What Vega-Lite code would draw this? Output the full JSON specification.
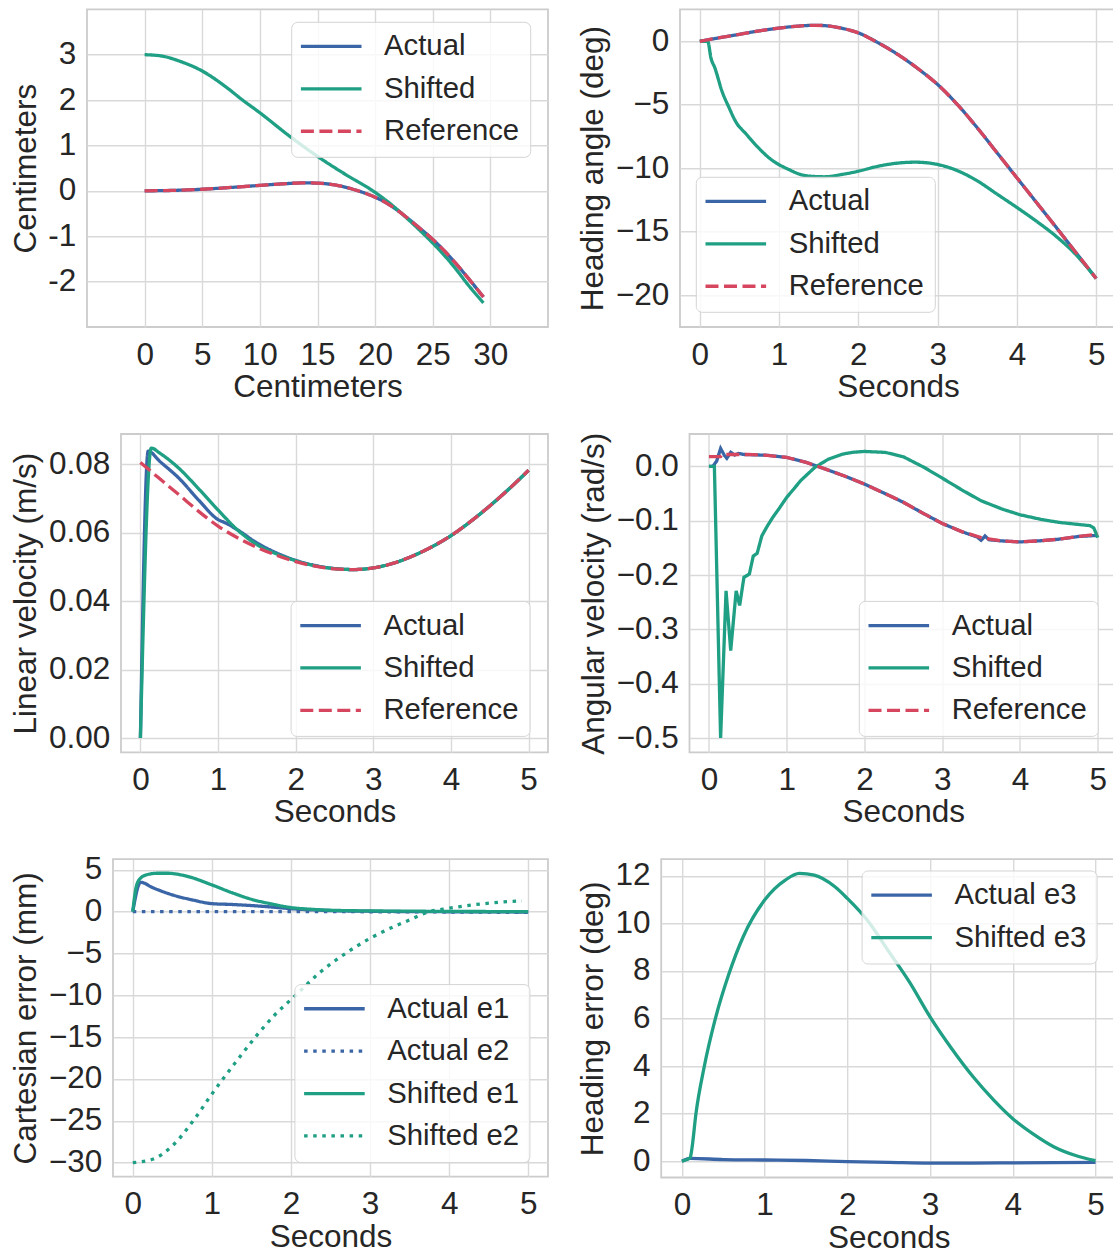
{
  "$schema": "https://vega.github.io/schema/vega-lite/v6.json",
  "padding": {"left": 0, "top": 8.3, "right": 0, "bottom": 0},
  "datasets": {
    "p1": [
      {"s":"Actual","x":0,"y":0},{"s":"Actual","x":2.5,"y":0.01},{"s":"Actual","x":5,"y":0.035},{"s":"Actual","x":7.5,"y":0.075},{"s":"Actual","x":10,"y":0.12},{"s":"Actual","x":12,"y":0.155},{"s":"Actual","x":13.8,"y":0.175},{"s":"Actual","x":15,"y":0.17},{"s":"Actual","x":16.5,"y":0.13},{"s":"Actual","x":18,"y":0.04},{"s":"Actual","x":19,"y":-0.04},{"s":"Actual","x":20,"y":-0.14},{"s":"Actual","x":21,"y":-0.27},{"s":"Actual","x":22,"y":-0.44},{"s":"Actual","x":23,"y":-0.64},{"s":"Actual","x":24,"y":-0.85},{"s":"Actual","x":25,"y":-1.07},{"s":"Actual","x":26,"y":-1.32},{"s":"Actual","x":27,"y":-1.6},{"s":"Actual","x":28,"y":-1.9},{"s":"Actual","x":29.4,"y":-2.34},
      {"s":"Shifted","x":0,"y":3},{"s":"Shifted","x":1.5,"y":2.97},{"s":"Shifted","x":3,"y":2.86},{"s":"Shifted","x":5,"y":2.64},{"s":"Shifted","x":7,"y":2.3},{"s":"Shifted","x":8.5,"y":2.0},{"s":"Shifted","x":10,"y":1.72},{"s":"Shifted","x":12.5,"y":1.22},{"s":"Shifted","x":15,"y":0.76},{"s":"Shifted","x":17.5,"y":0.35},{"s":"Shifted","x":19.8,"y":0},{"s":"Shifted","x":21,"y":-0.22},{"s":"Shifted","x":22,"y":-0.43},{"s":"Shifted","x":23,"y":-0.66},{"s":"Shifted","x":24,"y":-0.9},{"s":"Shifted","x":25,"y":-1.15},{"s":"Shifted","x":26,"y":-1.42},{"s":"Shifted","x":27,"y":-1.72},{"s":"Shifted","x":28,"y":-2.05},{"s":"Shifted","x":29.4,"y":-2.47},
      {"s":"Reference","x":0,"y":0},{"s":"Reference","x":2.5,"y":0.01},{"s":"Reference","x":5,"y":0.035},{"s":"Reference","x":7.5,"y":0.075},{"s":"Reference","x":10,"y":0.12},{"s":"Reference","x":12,"y":0.155},{"s":"Reference","x":13.8,"y":0.175},{"s":"Reference","x":15,"y":0.17},{"s":"Reference","x":16.5,"y":0.13},{"s":"Reference","x":18,"y":0.04},{"s":"Reference","x":19,"y":-0.04},{"s":"Reference","x":20,"y":-0.14},{"s":"Reference","x":21,"y":-0.27},{"s":"Reference","x":22,"y":-0.44},{"s":"Reference","x":23,"y":-0.64},{"s":"Reference","x":24,"y":-0.85},{"s":"Reference","x":25,"y":-1.07},{"s":"Reference","x":26,"y":-1.32},{"s":"Reference","x":27,"y":-1.6},{"s":"Reference","x":28,"y":-1.9},{"s":"Reference","x":29.4,"y":-2.34}
    ],
    "p2": [
      {"s":"Actual","t":0,"v":0},{"s":"Actual","t":0.25,"v":0.28},{"s":"Actual","t":0.5,"v":0.55},{"s":"Actual","t":0.75,"v":0.82},{"s":"Actual","t":1,"v":1.04},{"s":"Actual","t":1.25,"v":1.2},{"s":"Actual","t":1.45,"v":1.26},{"s":"Actual","t":1.6,"v":1.22},{"s":"Actual","t":1.75,"v":1.08},{"s":"Actual","t":1.9,"v":0.86},{"s":"Actual","t":2,"v":0.66},{"s":"Actual","t":2.25,"v":-0.12},{"s":"Actual","t":2.5,"v":-1.05},{"s":"Actual","t":2.75,"v":-2.15},{"s":"Actual","t":3,"v":-3.41},{"s":"Actual","t":3.25,"v":-4.99},{"s":"Actual","t":3.5,"v":-6.82},{"s":"Actual","t":3.75,"v":-8.79},{"s":"Actual","t":4,"v":-10.76},{"s":"Actual","t":4.25,"v":-12.73},{"s":"Actual","t":4.5,"v":-14.7},{"s":"Actual","t":4.75,"v":-16.7},{"s":"Actual","t":5,"v":-18.69},
      {"s":"Shifted","t":0,"v":0},{"s":"Shifted","t":0.1,"v":0},{"s":"Shifted","t":0.14,"v":-1.31},{"s":"Shifted","t":0.19,"v":-2.1},{"s":"Shifted","t":0.28,"v":-3.94},{"s":"Shifted","t":0.37,"v":-5.25},{"s":"Shifted","t":0.45,"v":-6.3},{"s":"Shifted","t":0.59,"v":-7.35},{"s":"Shifted","t":0.72,"v":-8.27},{"s":"Shifted","t":0.9,"v":-9.32},{"s":"Shifted","t":1.12,"v":-10.1},{"s":"Shifted","t":1.34,"v":-10.6},{"s":"Shifted","t":1.57,"v":-10.68},{"s":"Shifted","t":1.79,"v":-10.5},{"s":"Shifted","t":2,"v":-10.24},{"s":"Shifted","t":2.25,"v":-9.85},{"s":"Shifted","t":2.5,"v":-9.6},{"s":"Shifted","t":2.72,"v":-9.53},{"s":"Shifted","t":3,"v":-9.71},{"s":"Shifted","t":3.25,"v":-10.2},{"s":"Shifted","t":3.5,"v":-11.0},{"s":"Shifted","t":3.75,"v":-12.05},{"s":"Shifted","t":4,"v":-13.1},{"s":"Shifted","t":4.25,"v":-14.2},{"s":"Shifted","t":4.5,"v":-15.4},{"s":"Shifted","t":4.75,"v":-16.85},{"s":"Shifted","t":5,"v":-18.7},
      {"s":"Reference","t":0,"v":0},{"s":"Reference","t":0.25,"v":0.28},{"s":"Reference","t":0.5,"v":0.55},{"s":"Reference","t":0.75,"v":0.82},{"s":"Reference","t":1,"v":1.04},{"s":"Reference","t":1.25,"v":1.2},{"s":"Reference","t":1.45,"v":1.26},{"s":"Reference","t":1.6,"v":1.22},{"s":"Reference","t":1.75,"v":1.08},{"s":"Reference","t":1.9,"v":0.86},{"s":"Reference","t":2,"v":0.66},{"s":"Reference","t":2.25,"v":-0.12},{"s":"Reference","t":2.5,"v":-1.05},{"s":"Reference","t":2.75,"v":-2.15},{"s":"Reference","t":3,"v":-3.41},{"s":"Reference","t":3.25,"v":-4.99},{"s":"Reference","t":3.5,"v":-6.82},{"s":"Reference","t":3.75,"v":-8.79},{"s":"Reference","t":4,"v":-10.76},{"s":"Reference","t":4.25,"v":-12.73},{"s":"Reference","t":4.5,"v":-14.7},{"s":"Reference","t":4.75,"v":-16.7},{"s":"Reference","t":5,"v":-18.69}
    ],
    "p3": [
      {"s":"Actual","t":0,"v":0},{"s":"Actual","t":0.1,"v":0.0838},{"s":"Actual","t":0.25,"v":0.0808},{"s":"Actual","t":0.5,"v":0.0758},{"s":"Actual","t":0.75,"v":0.0695},{"s":"Actual","t":1,"v":0.0638},{"s":"Actual","t":1.1,"v":0.0628},{"s":"Actual","t":1.25,"v":0.0608},{"s":"Actual","t":1.5,"v":0.057},{"s":"Actual","t":1.75,"v":0.0541},{"s":"Actual","t":2,"v":0.0519},{"s":"Actual","t":2.25,"v":0.0504},{"s":"Actual","t":2.5,"v":0.0495},{"s":"Actual","t":2.75,"v":0.0492},{"s":"Actual","t":3,"v":0.0497},{"s":"Actual","t":3.25,"v":0.051},{"s":"Actual","t":3.5,"v":0.0531},{"s":"Actual","t":3.75,"v":0.0558},{"s":"Actual","t":4,"v":0.0591},{"s":"Actual","t":4.25,"v":0.0632},{"s":"Actual","t":4.5,"v":0.0678},{"s":"Actual","t":4.75,"v":0.0728},{"s":"Actual","t":5,"v":0.0782},
      {"s":"Shifted","t":0,"v":0},{"s":"Shifted","t":0.14,"v":0.0847},{"s":"Shifted","t":0.25,"v":0.0832},{"s":"Shifted","t":0.5,"v":0.0787},{"s":"Shifted","t":0.75,"v":0.0728},{"s":"Shifted","t":1,"v":0.0666},{"s":"Shifted","t":1.25,"v":0.0608},{"s":"Shifted","t":1.5,"v":0.0565},{"s":"Shifted","t":1.75,"v":0.0538},{"s":"Shifted","t":2,"v":0.0518},{"s":"Shifted","t":2.25,"v":0.0503},{"s":"Shifted","t":2.5,"v":0.0495},{"s":"Shifted","t":2.75,"v":0.0492},{"s":"Shifted","t":3,"v":0.0497},{"s":"Shifted","t":3.25,"v":0.051},{"s":"Shifted","t":3.5,"v":0.0531},{"s":"Shifted","t":3.75,"v":0.0558},{"s":"Shifted","t":4,"v":0.0591},{"s":"Shifted","t":4.25,"v":0.0632},{"s":"Shifted","t":4.5,"v":0.0678},{"s":"Shifted","t":4.75,"v":0.0728},{"s":"Shifted","t":5,"v":0.0782},
      {"s":"Reference","t":0,"v":0.0805},{"s":"Reference","t":0.25,"v":0.0757},{"s":"Reference","t":0.5,"v":0.071},{"s":"Reference","t":0.75,"v":0.0662},{"s":"Reference","t":1,"v":0.0619},{"s":"Reference","t":1.25,"v":0.0585},{"s":"Reference","t":1.5,"v":0.0557},{"s":"Reference","t":1.75,"v":0.0534},{"s":"Reference","t":2,"v":0.0515},{"s":"Reference","t":2.25,"v":0.0502},{"s":"Reference","t":2.5,"v":0.0494},{"s":"Reference","t":2.75,"v":0.0492},{"s":"Reference","t":3,"v":0.0497},{"s":"Reference","t":3.25,"v":0.051},{"s":"Reference","t":3.5,"v":0.0531},{"s":"Reference","t":3.75,"v":0.0558},{"s":"Reference","t":4,"v":0.0591},{"s":"Reference","t":4.25,"v":0.0632},{"s":"Reference","t":4.5,"v":0.0678},{"s":"Reference","t":4.75,"v":0.0728},{"s":"Reference","t":5,"v":0.0782}
    ],
    "p4": [
      {"s":"Actual","t":0,"v":0},{"s":"Actual","t":0.05,"v":0},{"s":"Actual","t":0.1,"v":0.01},{"s":"Actual","t":0.15,"v":0.033},{"s":"Actual","t":0.2,"v":0.02},{"s":"Actual","t":0.23,"v":0.015},{"s":"Actual","t":0.28,"v":0.026},{"s":"Actual","t":0.33,"v":0.021},{"s":"Actual","t":0.38,"v":0.024},{"s":"Actual","t":0.45,"v":0.022},{"s":"Actual","t":0.75,"v":0.0205},{"s":"Actual","t":1,"v":0.0165},{"s":"Actual","t":1.25,"v":0.0075},{"s":"Actual","t":1.5,"v":-0.005},{"s":"Actual","t":1.75,"v":-0.018},{"s":"Actual","t":2,"v":-0.0325},{"s":"Actual","t":2.25,"v":-0.049},{"s":"Actual","t":2.5,"v":-0.066},{"s":"Actual","t":2.75,"v":-0.086},{"s":"Actual","t":3,"v":-0.105},{"s":"Actual","t":3.25,"v":-0.12},{"s":"Actual","t":3.45,"v":-0.13},{"s":"Actual","t":3.5,"v":-0.136},{"s":"Actual","t":3.55,"v":-0.128},{"s":"Actual","t":3.6,"v":-0.135},{"s":"Actual","t":3.75,"v":-0.137},{"s":"Actual","t":4,"v":-0.139},{"s":"Actual","t":4.25,"v":-0.137},{"s":"Actual","t":4.5,"v":-0.134},{"s":"Actual","t":4.75,"v":-0.129},{"s":"Actual","t":5,"v":-0.127},
      {"s":"Shifted","t":0,"v":0},{"s":"Shifted","t":0.07,"v":0},{"s":"Shifted","t":0.15,"v":-0.5},{"s":"Shifted","t":0.22,"v":-0.229},{"s":"Shifted","t":0.28,"v":-0.339},{"s":"Shifted","t":0.35,"v":-0.229},{"s":"Shifted","t":0.395,"v":-0.256},{"s":"Shifted","t":0.45,"v":-0.204},{"s":"Shifted","t":0.5,"v":-0.2},{"s":"Shifted","t":0.52,"v":-0.198},{"s":"Shifted","t":0.57,"v":-0.165},{"s":"Shifted","t":0.62,"v":-0.16},{"s":"Shifted","t":0.68,"v":-0.128},{"s":"Shifted","t":0.75,"v":-0.11},{"s":"Shifted","t":0.82,"v":-0.094},{"s":"Shifted","t":0.9,"v":-0.078},{"s":"Shifted","t":1,"v":-0.057},{"s":"Shifted","t":1.1,"v":-0.04},{"s":"Shifted","t":1.18,"v":-0.026},{"s":"Shifted","t":1.27,"v":-0.014},{"s":"Shifted","t":1.36,"v":-0.002},{"s":"Shifted","t":1.45,"v":0.006},{"s":"Shifted","t":1.54,"v":0.0135},{"s":"Shifted","t":1.72,"v":0.0227},{"s":"Shifted","t":1.85,"v":0.026},{"s":"Shifted","t":2,"v":0.0276},{"s":"Shifted","t":2.27,"v":0.0258},{"s":"Shifted","t":2.5,"v":0.0178},{"s":"Shifted","t":2.77,"v":-0.002},{"s":"Shifted","t":3,"v":-0.0215},{"s":"Shifted","t":3.27,"v":-0.0448},{"s":"Shifted","t":3.5,"v":-0.0632},{"s":"Shifted","t":3.77,"v":-0.0785},{"s":"Shifted","t":4,"v":-0.089},{"s":"Shifted","t":4.27,"v":-0.0975},{"s":"Shifted","t":4.5,"v":-0.103},{"s":"Shifted","t":4.76,"v":-0.107},{"s":"Shifted","t":4.9,"v":-0.109},{"s":"Shifted","t":4.95,"v":-0.1135},{"s":"Shifted","t":5,"v":-0.131},
      {"s":"Reference","t":0,"v":0.018},{"s":"Reference","t":0.15,"v":0.018},{"s":"Reference","t":0.17,"v":0.022},{"s":"Reference","t":0.5,"v":0.022},{"s":"Reference","t":0.75,"v":0.0205},{"s":"Reference","t":1,"v":0.0165},{"s":"Reference","t":1.25,"v":0.0075},{"s":"Reference","t":1.5,"v":-0.005},{"s":"Reference","t":1.75,"v":-0.018},{"s":"Reference","t":2,"v":-0.0325},{"s":"Reference","t":2.25,"v":-0.049},{"s":"Reference","t":2.5,"v":-0.066},{"s":"Reference","t":2.75,"v":-0.086},{"s":"Reference","t":3,"v":-0.105},{"s":"Reference","t":3.25,"v":-0.12},{"s":"Reference","t":3.5,"v":-0.131},{"s":"Reference","t":3.75,"v":-0.137},{"s":"Reference","t":4,"v":-0.139},{"s":"Reference","t":4.25,"v":-0.137},{"s":"Reference","t":4.5,"v":-0.134},{"s":"Reference","t":4.75,"v":-0.129},{"s":"Reference","t":5,"v":-0.1245}
    ],
    "p5": [
      {"s":"Actual e1","t":0,"v":0},{"s":"Actual e1","t":0.1,"v":3.5},{"s":"Actual e1","t":0.25,"v":2.87},{"s":"Actual e1","t":0.5,"v":2.0},{"s":"Actual e1","t":0.75,"v":1.4},{"s":"Actual e1","t":1,"v":0.95},{"s":"Actual e1","t":1.25,"v":0.85},{"s":"Actual e1","t":1.5,"v":0.72},{"s":"Actual e1","t":1.75,"v":0.55},{"s":"Actual e1","t":2,"v":0.35},{"s":"Actual e1","t":2.5,"v":0.12},{"s":"Actual e1","t":3,"v":0.04},{"s":"Actual e1","t":3.5,"v":0},{"s":"Actual e1","t":4,"v":-0.02},{"s":"Actual e1","t":4.5,"v":-0.04},{"s":"Actual e1","t":5,"v":-0.05},
      {"s":"Actual e2","t":0,"v":0},{"s":"Actual e2","t":1,"v":0},{"s":"Actual e2","t":2,"v":0},{"s":"Actual e2","t":3,"v":-0.02},{"s":"Actual e2","t":4,"v":-0.05},{"s":"Actual e2","t":5,"v":-0.1},
      {"s":"Shifted e1","t":0,"v":0},{"s":"Shifted e1","t":0.036,"v":2.6},{"s":"Shifted e1","t":0.08,"v":3.8},{"s":"Shifted e1","t":0.17,"v":4.38},{"s":"Shifted e1","t":0.31,"v":4.58},{"s":"Shifted e1","t":0.44,"v":4.58},{"s":"Shifted e1","t":0.67,"v":4.26},{"s":"Shifted e1","t":1,"v":3.19},{"s":"Shifted e1","t":1.25,"v":2.27},{"s":"Shifted e1","t":1.5,"v":1.47},{"s":"Shifted e1","t":1.75,"v":0.92},{"s":"Shifted e1","t":2,"v":0.48},{"s":"Shifted e1","t":2.25,"v":0.28},{"s":"Shifted e1","t":2.5,"v":0.16},{"s":"Shifted e1","t":3,"v":0.08},{"s":"Shifted e1","t":3.5,"v":0.05},{"s":"Shifted e1","t":4,"v":0.02},{"s":"Shifted e1","t":5,"v":0},
      {"s":"Shifted e2","t":0,"v":-30},{"s":"Shifted e2","t":0.25,"v":-29.6},{"s":"Shifted e2","t":0.5,"v":-28.0},{"s":"Shifted e2","t":0.78,"v":-24.8},{"s":"Shifted e2","t":1,"v":-21.8},{"s":"Shifted e2","t":1.14,"v":-20},{"s":"Shifted e2","t":1.35,"v":-17.4},{"s":"Shifted e2","t":1.55,"v":-15},{"s":"Shifted e2","t":1.8,"v":-12.3},{"s":"Shifted e2","t":2.06,"v":-10},{"s":"Shifted e2","t":2.35,"v":-7.4},{"s":"Shifted e2","t":2.69,"v":-5},{"s":"Shifted e2","t":3,"v":-3.2},{"s":"Shifted e2","t":3.3,"v":-1.8},{"s":"Shifted e2","t":3.5,"v":-1.0},{"s":"Shifted e2","t":3.7,"v":-0.15},{"s":"Shifted e2","t":4,"v":0.4},{"s":"Shifted e2","t":4.25,"v":0.75},{"s":"Shifted e2","t":4.5,"v":1.0},{"s":"Shifted e2","t":4.75,"v":1.2},{"s":"Shifted e2","t":4.92,"v":1.27}
    ],
    "p6": [
      {"s":"Actual e3","t":0,"v":0},{"s":"Actual e3","t":0.1,"v":0.12},{"s":"Actual e3","t":0.5,"v":0.07},{"s":"Actual e3","t":1,"v":0.05},{"s":"Actual e3","t":1.5,"v":0.03},{"s":"Actual e3","t":2,"v":-0.02},{"s":"Actual e3","t":2.5,"v":-0.05},{"s":"Actual e3","t":3,"v":-0.08},{"s":"Actual e3","t":3.5,"v":-0.08},{"s":"Actual e3","t":4,"v":-0.07},{"s":"Actual e3","t":4.5,"v":-0.06},{"s":"Actual e3","t":5,"v":-0.05},
      {"s":"Shifted e3","t":0,"v":0},{"s":"Shifted e3","t":0.1,"v":0.15},{"s":"Shifted e3","t":0.12,"v":0.5},{"s":"Shifted e3","t":0.17,"v":2.0},{"s":"Shifted e3","t":0.27,"v":3.97},{"s":"Shifted e3","t":0.4,"v":5.93},{"s":"Shifted e3","t":0.57,"v":7.89},{"s":"Shifted e3","t":0.74,"v":9.43},{"s":"Shifted e3","t":1,"v":10.98},{"s":"Shifted e3","t":1.25,"v":11.82},{"s":"Shifted e3","t":1.42,"v":12.1},{"s":"Shifted e3","t":1.6,"v":12.03},{"s":"Shifted e3","t":1.85,"v":11.54},{"s":"Shifted e3","t":2,"v":11.05},{"s":"Shifted e3","t":2.24,"v":10.14},{"s":"Shifted e3","t":2.49,"v":8.87},{"s":"Shifted e3","t":2.75,"v":7.54},{"s":"Shifted e3","t":3,"v":6.07},{"s":"Shifted e3","t":3.26,"v":4.74},{"s":"Shifted e3","t":3.52,"v":3.55},{"s":"Shifted e3","t":3.77,"v":2.57},{"s":"Shifted e3","t":4,"v":1.79},{"s":"Shifted e3","t":4.24,"v":1.16},{"s":"Shifted e3","t":4.5,"v":0.6},{"s":"Shifted e3","t":4.75,"v":0.25},{"s":"Shifted e3","t":5,"v":0.02}
    ]
  },
  "spacing": 26.7,
  "vconcat": [
    {
      "spacing": 0, "bounds": "flush",
      "hconcat": [
        {"width": 87, "height": 1, "data": {"values": []}, "mark": {"type": "point", "opacity": 0}, "encoding": {}, "view": {"stroke": null}},
        {
          "hconcat": [
            {
              "width": 461, "height": 317.7,
              "data": {"name": "p1"},
              "mark": {"type": "line", "strokeWidth": 3.3, "interpolate": "monotone"},
              "encoding": {
                "x": {"field": "x", "type": "quantitative", "scale": {"domain": [-5, 35], "nice": false, "zero": false}, "axis": {"values": [0,5,10,15,20,25,30], "title": "Centimeters"}},
                "y": {"field": "y", "type": "quantitative", "scale": {"domain": [-3, 4], "nice": false, "zero": false}, "axis": {"values": [-2,-1,0,1,2,3], "title": "Centimeters", "labelExpr": "replace(datum.label, '−', '-')"}},
                "color": {"field": "s", "type": "nominal", "sort": null, "scale": {"domain": ["Actual","Shifted","Reference"], "range": ["#3a65a6","#1f9f84","#d6465f"]}, "legend": {"orient": "none", "legendX": 204.2, "legendY": 12.5, "title": null, "symbolType": "M-3.03,0H3.03", "symbolSize": 400, "symbolStrokeWidth": 3.3, "symbolOffset": 15.35, "labelOffset": 38.2, "rowPadding": 12.4, "padding": 10}},
                "strokeDash": {"field": "s", "type": "nominal", "sort": null, "scale": {"domain": ["Actual","Shifted","Reference"], "range": [[1,0],[1,0],[13,5.5]]}, "legend": {"orient": "none", "legendX": 204.2, "legendY": 12.5, "title": null, "symbolType": "M-3.03,0H3.03", "symbolSize": 400, "symbolStrokeWidth": 3.3, "symbolOffset": 15.35, "labelOffset": 38.2, "rowPadding": 12.4, "padding": 10}}
              }
            },
            {
              "width": 436, "height": 317.7,
              "data": {"name": "p2"},
              "mark": {"type": "line", "strokeWidth": 3.3, "interpolate": "monotone"},
              "encoding": {
                "x": {"field": "t", "type": "quantitative", "scale": {"domain": [-0.25, 5.25], "nice": false, "zero": false}, "axis": {"values": [0,1,2,3,4,5], "title": "Seconds"}},
                "y": {"field": "v", "type": "quantitative", "scale": {"domain": [-22.52, 2.52], "nice": false, "zero": false}, "axis": {"values": [-20,-15,-10,-5,0], "title": "Heading angle (deg)"}},
                "color": {"field": "s", "type": "nominal", "sort": null, "scale": {"domain": ["Actual","Shifted","Reference"], "range": ["#3a65a6","#1f9f84","#d6465f"]}, "legend": {"orient": "none", "legendX": 15.8, "legendY": 167.5, "title": null, "symbolType": "M-3.03,0H3.03", "symbolSize": 400, "symbolStrokeWidth": 3.3, "symbolOffset": 15.35, "labelOffset": 38.2, "rowPadding": 12.4, "padding": 10}},
                "strokeDash": {"field": "s", "type": "nominal", "sort": null, "scale": {"domain": ["Actual","Shifted","Reference"], "range": [[1,0],[1,0],[13,5.5]]}, "legend": {"orient": "none", "legendX": 15.8, "legendY": 167.5, "title": null, "symbolType": "M-3.03,0H3.03", "symbolSize": 400, "symbolStrokeWidth": 3.3, "symbolOffset": 15.35, "labelOffset": 38.2, "rowPadding": 12.4, "padding": 10}}
              }
            }
          ],
          "spacing": 132,
          "bounds": "flush",
          "resolve": {"scale": {"color": "independent", "strokeDash": "independent"}, "legend": {"color": "independent", "strokeDash": "independent"}}
        }
      ],
      "resolve": {"scale": {"color": "independent", "strokeDash": "independent"}, "legend": {"color": "independent", "strokeDash": "independent"}}
    },
    {
      "spacing": 22.2,
      "vconcat": [
        {
          "spacing": 0, "bounds": "flush",
          "hconcat": [
            {"width": 121, "height": 1, "data": {"values": []}, "mark": {"type": "point", "opacity": 0}, "encoding": {}, "view": {"stroke": null}},
            {
              "hconcat": [
                {
                  "width": 427, "height": 318.4,
                  "data": {"name": "p3"},
                  "mark": {"type": "line", "strokeWidth": 3.3, "interpolate": "monotone"},
                  "encoding": {
                    "x": {"field": "t", "type": "quantitative", "scale": {"domain": [-0.25, 5.25], "nice": false, "zero": false}, "axis": {"values": [0,1,2,3,4,5], "title": "Seconds"}},
                    "y": {"field": "v", "type": "quantitative", "scale": {"domain": [-0.0042, 0.0888], "nice": false, "zero": false}, "axis": {"values": [0,0.02,0.04,0.06,0.08], "format": ".2f", "title": "Linear velocity (m/s)"}},
                    "color": {"field": "s", "type": "nominal", "sort": null, "scale": {"domain": ["Actual","Shifted","Reference"], "range": ["#3a65a6","#1f9f84","#d6465f"]}, "legend": {"orient": "none", "legendX": 169.6, "legendY": 166.9, "title": null, "symbolType": "M-3.03,0H3.03", "symbolSize": 400, "symbolStrokeWidth": 3.3, "symbolOffset": 15.35, "labelOffset": 38.2, "rowPadding": 12.4, "padding": 10}},
                    "strokeDash": {"field": "s", "type": "nominal", "sort": null, "scale": {"domain": ["Actual","Shifted","Reference"], "range": [[1,0],[1,0],[13,5.5]]}, "legend": {"orient": "none", "legendX": 169.6, "legendY": 166.9, "title": null, "symbolType": "M-3.03,0H3.03", "symbolSize": 400, "symbolStrokeWidth": 3.3, "symbolOffset": 15.35, "labelOffset": 38.2, "rowPadding": 12.4, "padding": 10}}
                  }
                },
                {
                  "width": 427.7, "height": 318.4,
                  "data": {"name": "p4"},
                  "mark": {"type": "line", "strokeWidth": 3.3},
                  "encoding": {
                    "x": {"field": "t", "type": "quantitative", "scale": {"domain": [-0.25, 5.25], "nice": false, "zero": false}, "axis": {"values": [0,1,2,3,4,5], "title": "Seconds"}},
                    "y": {"field": "v", "type": "quantitative", "scale": {"domain": [-0.5265, 0.0597], "nice": false, "zero": false}, "axis": {"values": [-0.5,-0.4,-0.3,-0.2,-0.1,0], "format": ".1f", "title": "Angular velocity (rad/s)"}},
                    "color": {"field": "s", "type": "nominal", "sort": null, "scale": {"domain": ["Actual","Shifted","Reference"], "range": ["#3a65a6","#1f9f84","#d6465f"]}, "legend": {"orient": "none", "legendX": 169.3, "legendY": 166.9, "title": null, "symbolType": "M-3.03,0H3.03", "symbolSize": 400, "symbolStrokeWidth": 3.3, "symbolOffset": 15.35, "labelOffset": 38.2, "rowPadding": 12.4, "padding": 10}},
                    "strokeDash": {"field": "s", "type": "nominal", "sort": null, "scale": {"domain": ["Actual","Shifted","Reference"], "range": [[1,0],[1,0],[13,5.5]]}, "legend": {"orient": "none", "legendX": 169.3, "legendY": 166.9, "title": null, "symbolType": "M-3.03,0H3.03", "symbolSize": 400, "symbolStrokeWidth": 3.3, "symbolOffset": 15.35, "labelOffset": 38.2, "rowPadding": 12.4, "padding": 10}}
                  }
                }
              ],
              "spacing": 141.5,
              "bounds": "flush",
              "resolve": {"scale": {"color": "independent", "strokeDash": "independent"}, "legend": {"color": "independent", "strokeDash": "independent"}}
            }
          ],
          "resolve": {"scale": {"color": "independent", "strokeDash": "independent"}, "legend": {"color": "independent", "strokeDash": "independent"}}
        },
        {
          "spacing": 0, "bounds": "flush",
          "hconcat": [
            {"width": 113, "height": 1, "data": {"values": []}, "mark": {"type": "point", "opacity": 0}, "encoding": {}, "view": {"stroke": null}},
            {
              "hconcat": [
                {
                  "width": 435, "height": 317.4,
                  "data": {"name": "p5"},
                  "mark": {"type": "line", "strokeWidth": 3.3, "interpolate": "monotone"},
                  "encoding": {
                    "x": {"field": "t", "type": "quantitative", "scale": {"domain": [-0.25, 5.25], "nice": false, "zero": false}, "axis": {"values": [0,1,2,3,4,5], "title": "Seconds"}},
                    "y": {"field": "v", "type": "quantitative", "scale": {"domain": [-31.67, 6.26], "nice": false, "zero": false}, "axis": {"values": [-30,-25,-20,-15,-10,-5,0,5], "title": "Cartesian error (mm)"}},
                    "color": {"field": "s", "type": "nominal", "sort": null, "scale": {"domain": ["Actual e1","Actual e2","Shifted e1","Shifted e2"], "range": ["#3a65a6","#3a65a6","#1f9f84","#1f9f84"]}, "legend": {"orient": "none", "legendX": 181.4, "legendY": 124.9, "title": null, "symbolType": "M-3.03,0H3.03", "symbolSize": 400, "symbolStrokeWidth": 3.3, "symbolOffset": 15.35, "labelOffset": 38.2, "rowPadding": 12.4, "padding": 10}},
                    "strokeDash": {"field": "s", "type": "nominal", "sort": null, "scale": {"domain": ["Actual e1","Actual e2","Shifted e1","Shifted e2"], "range": [[1,0],[3.5,5.6],[1,0],[3.5,5.6]]}, "legend": {"orient": "none", "legendX": 181.4, "legendY": 124.9, "title": null, "symbolType": "M-3.03,0H3.03", "symbolSize": 400, "symbolStrokeWidth": 3.3, "symbolOffset": 15.35, "labelOffset": 38.2, "rowPadding": 12.4, "padding": 10}}
                  }
                },
                {
                  "width": 455, "height": 318.3,
                  "data": {"name": "p6"},
                  "mark": {"type": "line", "strokeWidth": 3.3, "interpolate": "monotone"},
                  "encoding": {
                    "x": {"field": "t", "type": "quantitative", "scale": {"domain": [-0.25, 5.25], "nice": false, "zero": false}, "axis": {"values": [0,1,2,3,4,5], "title": "Seconds"}},
                    "y": {"field": "v", "type": "quantitative", "scale": {"domain": [-0.685, 12.7], "nice": false, "zero": false}, "axis": {"values": [0,2,4,6,8,10,12], "title": "Heading error (deg)"}},
                    "color": {"field": "s", "type": "nominal", "sort": null, "scale": {"domain": ["Actual e3","Shifted e3"], "range": ["#3a65a6","#1f9f84"]}, "legend": {"orient": "none", "legendX": 200.4, "legendY": 11.3, "title": null, "symbolType": "M-3.03,0H3.03", "symbolSize": 400, "symbolStrokeWidth": 3.3, "symbolOffset": 15.35, "labelOffset": 38.2, "rowPadding": 12.4, "padding": 10}}
                  }
                }
              ],
              "spacing": 113.2,
              "bounds": "flush",
              "resolve": {"scale": {"color": "independent", "strokeDash": "independent"}, "legend": {"color": "independent", "strokeDash": "independent"}}
            }
          ],
          "resolve": {"scale": {"color": "independent", "strokeDash": "independent"}, "legend": {"color": "independent", "strokeDash": "independent"}}
        }
      ],
      "resolve": {"scale": {"color": "independent", "strokeDash": "independent"}, "legend": {"color": "independent", "strokeDash": "independent"}}
    }
  ],
  "resolve": {"scale": {"color": "independent", "strokeDash": "independent"}, "legend": {"color": "independent", "strokeDash": "independent"}},
  "config": {
    "font": "Liberation Sans",
    "view": {"stroke": "#cccccc", "strokeWidth": 1.8},
    "axis": {
      "grid": true, "gridColor": "#d9d9d9", "gridWidth": 1.4,
      "domain": false, "ticks": false, "tickSize": 0,
      "labelFont": "Liberation Sans", "labelFontSize": 31.5, "labelColor": "#262626",
      "titleFont": "Liberation Sans", "titleFontSize": 31.5, "titleFontWeight": "normal", "titleColor": "#262626",
      "labelFlush": false, "labelOverlap": false, "labelBound": false
    },
    "axisX": {"labelPadding": 12.1, "titlePadding": 1},
    "axisY": {"labelPadding": 11.2, "titlePadding": 5.5},
    "legend": {
      "labelFont": "Liberation Sans", "labelFontSize": 29.3, "labelColor": "#262626",
      "fillColor": "rgba(255,255,255,0.8)", "strokeColor": "#d4d4d4", "cornerRadius": 6,
      "labelLimit": 400
    }
  }
}
